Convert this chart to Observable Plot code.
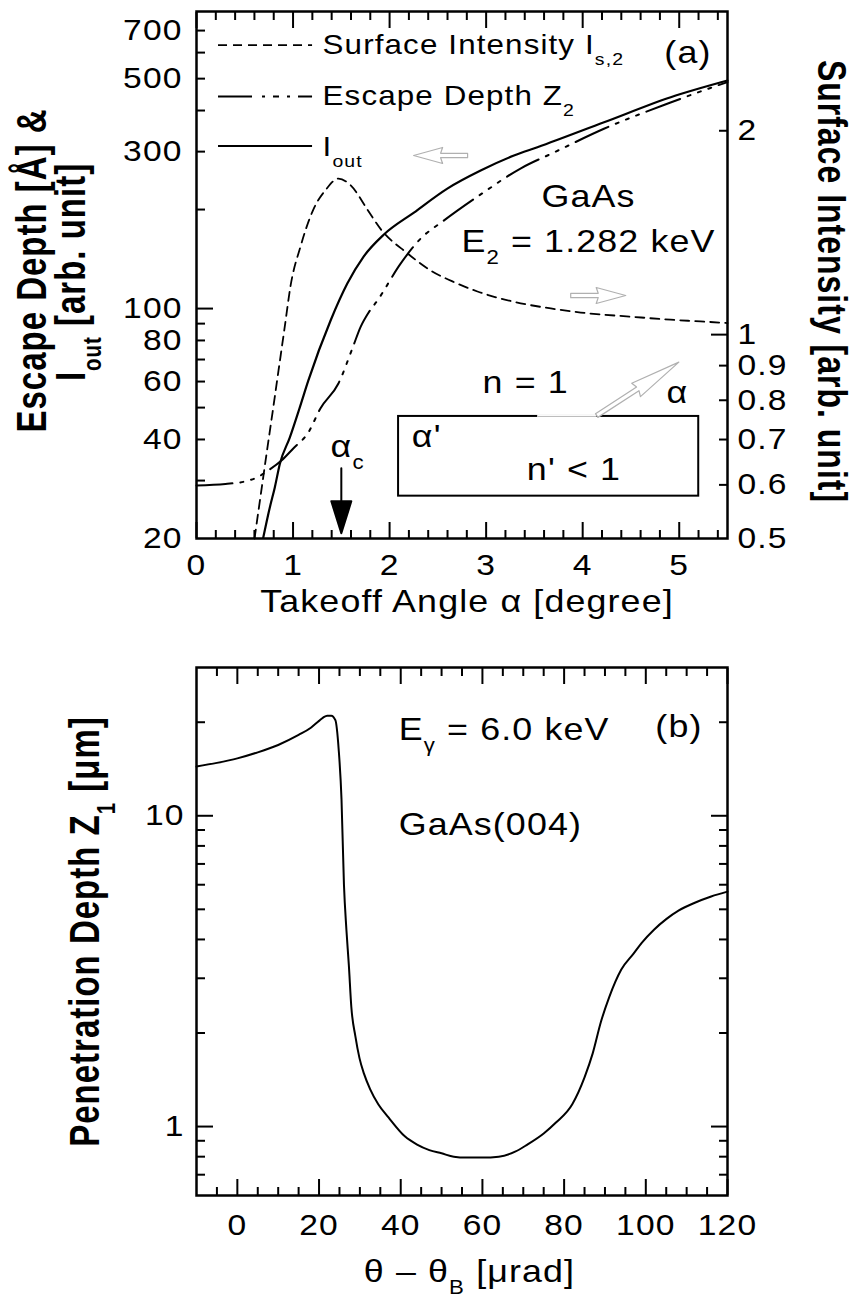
<!DOCTYPE html>
<html>
<head>
<meta charset="utf-8">
<script src="https://cdn.jsdelivr.net/npm/d3@7"></script>
<script src="https://cdn.jsdelivr.net/npm/@observablehq/plot@0.6"></script>
<style>
  html, body { margin: 0; padding: 0; background: #fff; }
  #chart { position: relative; width: 855px; height: 1298px; background: #fff; }
  #chart svg { position: absolute; left: 0; }
</style>
</head>
<body>
<div id="chart"></div>
<script>
// ---------- Panel (a): takeoff angle α [degree] ----------
// Surface intensity I_s,2 (right axis, arb. unit)
const surfaceAlpha = [0.601, 0.663, 0.725, 0.788, 0.850, 0.912, 0.974, 1.078, 1.21, 1.337, 1.47, 1.60, 1.77, 1.91, 2.18, 2.42, 2.67, 2.91, 3.29, 3.67, 3.98, 4.53, 4.91, 5.22, 5.5];
const surfaceIntensity = [0.5, 0.577, 0.666, 0.768, 0.886, 1.022, 1.18, 1.35, 1.53, 1.635, 1.70, 1.66, 1.53, 1.43, 1.32, 1.245, 1.195, 1.158, 1.118, 1.093, 1.078, 1.062, 1.052, 1.046, 1.04];

// Escape depth Z_2 [Å] (left axis)
const depthAlpha = [0, 0.3, 0.5, 0.62, 0.75, 0.88, 1.0, 1.158, 1.285, 1.47, 1.617, 1.70, 1.78, 1.876, 2.114, 2.32, 2.56, 2.94, 3.36, 3.70, 4.22, 4.91, 5.40, 5.5];
const escapeDepth = [29.0, 29.3, 29.8, 30.6, 32.3, 34.5, 37.5, 42.0, 49.8, 59.2, 76, 88, 97, 106, 137, 163, 185, 222, 267, 298, 352, 423, 477, 488];

// Output intensity I_out (left axis, arb. unit)
const outAlpha = [0.691, 0.760, 0.811, 0.863, 0.967, 1.070, 1.158, 1.389, 1.562, 1.731, 1.941, 2.252, 2.598, 2.943, 3.288, 3.531, 4.221, 4.912, 5.5];
const outIntensity = [20.1, 24.9, 28.6, 33.7, 40.6, 50.1, 60.4, 92.0, 119.1, 143.9, 167.9, 195.8, 231.6, 262.8, 291.8, 309.3, 368.4, 439, 493.4];

// Axis ticks, panel (a)
const alphaMajor = [0, 1, 2, 3, 4, 5];
const alphaMinor = [0.2, 0.4, 0.6, 0.8, 1.2, 1.4, 1.6, 1.8, 2.2, 2.4, 2.6, 2.8, 3.2, 3.4, 3.6, 3.8, 4.2, 4.4, 4.6, 4.8, 5.2, 5.4];
const depthLabels = [20, 40, 60, 80, 100, 300, 500, 700];
const depthMajor = [100];
const depthMinor = [30, 40, 50, 60, 70, 80, 90, 200, 300, 400, 500, 600, 700];
const surfaceLabels = [0.5, 0.6, 0.7, 0.8, 0.9, 1, 2];
const surfaceMajor = [1];
const surfaceMinor = [0.6, 0.7, 0.8, 0.9, 2];

// ---------- Panel (b): θ − θ_B [µrad] ----------
const thetaOffset = [-10, -5, 0, 5, 10, 15, 18, 20, 21, 22, 23, 24, 24.8, 25.5, 26.1, 26.7, 27.3, 27.9, 28.9, 29.9, 31, 32.5, 34.5, 37, 41, 44, 47, 50, 53, 56, 60, 64, 68, 71, 75, 78, 82, 85, 87, 89, 91, 94, 97, 99, 102, 105, 108, 112, 116, 120];
const penetrationDepth = [14.4, 14.8, 15.3, 16.0, 16.9, 18.2, 19.2, 20.2, 20.7, 21.0, 21.0, 20.3, 16.4, 11.3, 6.0, 4.3, 3.3, 2.43, 1.95, 1.66, 1.48, 1.32, 1.18, 1.07, 0.93, 0.875, 0.84, 0.82, 0.80, 0.795, 0.795, 0.80, 0.83, 0.875, 0.95, 1.03, 1.18, 1.44, 1.72, 2.17, 2.6, 3.2, 3.6, 3.9, 4.3, 4.65, 4.95, 5.25, 5.5, 5.7];

const thetaMajor = [0, 20, 40, 60, 80, 100, 120];
const thetaMinor = [-5, 5, 10, 15, 25, 30, 35, 45, 50, 55, 65, 70, 75, 85, 90, 95, 105, 110, 115];
const penLabels = [1, 10];
const penMajor = [1, 10];
const penMinor = [0.7, 0.8, 0.9, 2, 3, 4, 5, 6, 7, 8, 9, 20];

// Legend entries of panel (a)
const legendLabels = ["Surface Intensity I_{s,2}", "Escape Depth Z_{2}", "I_{out}"];

// ---------- helpers ----------
const zip = (xs, ys) => xs.map((x, i) => ({x, y: ys[i]}));
const fmt = (d) => String(d);
const baseStyle = "font-family: 'Liberation Sans', Arial, Helvetica, sans-serif; letter-spacing: 1px; color: black; background: transparent; overflow: visible;";

// inward-pointing tick marks (labels left empty)
const xTicks = (values, size) => ["bottom", "top"].map((anchor) =>
  Plot.axisX(values, {anchor, tickSize: -size, strokeWidth: 2, label: null, tickFormat: () => ""}));
const yTicks = (values, size, anchors) => anchors.map((anchor) =>
  Plot.axisY(values, {anchor, tickSize: -size, strokeWidth: 2, label: null, tickFormat: () => ""}));

// outlined arrow pointing along the vector
const hollowArrow = {
  draw(c, l) {
    const w = 2.2, h = 8, b = -l * 0.5;
    c.moveTo(-w, 0); c.lineTo(-w, b); c.lineTo(-h, b + 2); c.lineTo(0, -l);
    c.lineTo(h, b + 2); c.lineTo(w, b); c.lineTo(w, 0); c.closePath();
  }
};
// filled arrow (shaft + solid head)
const solidArrow = {
  draw(c, l) {
    const hl = 32, hw = 10;
    c.moveTo(0, 0); c.lineTo(0, -(l - hl));
    c.moveTo(-hw, -(l - hl)); c.lineTo(0, -l); c.lineTo(hw, -(l - hl)); c.closePath();
  }
};

// axis titles are centred on the frame side they belong to
const title = (text, opts) => Plot.text([text], {textAnchor: "middle", lineAnchor: "middle", ...opts});

// ---------- panel (a), left axis ----------
const panelA = Plot.plot({
  width: 855, height: 640,
  marginTop: 11, marginRight: 128, marginBottom: 102, marginLeft: 196,
  style: baseStyle,
  x: {domain: [0, 5.5], axis: null, label: null},
  y: {type: "log", domain: [20, 800], axis: null, label: null},
  marks: [
    // refraction sketch: n' < 1 medium and exit ray
    Plot.rect([{x1: 2.093, x2: 5.202, y1: 26.9, y2: 47.0}], {x1: "x1", x2: "x2", y1: "y1", y2: "y2", fill: "none", stroke: "black", strokeWidth: 2}),
    Plot.ruleY([47.0], {x1: 3.534, x2: 4.145, stroke: "white", strokeWidth: 4}),
    Plot.ruleY([47.0], {x1: 3.534, x2: 4.145, stroke: "#b8b8b8", strokeWidth: 1}),
    Plot.vector([{x: 4.145, y: 47.3}], {x: "x", y: "y", length: 98, rotate: 57, anchor: "start", shape: hollowArrow, stroke: "#b0b0b0", fill: "white", strokeWidth: 1.2}),
    Plot.text(["n = 1"], {x: 3.41, y: 59.5, fontSize: 32}),
    Plot.text(["α"], {x: 4.98, y: 55.4, fontSize: 32}),
    Plot.text(["α'"], {x: 2.23, y: 40.7, fontSize: 32, textAnchor: "start"}),
    Plot.text(["n' < 1"], {x: 3.91, y: 32.3, fontSize: 32}),

    // axis-direction arrows
    Plot.vector([{x: 2.808, y: 292}], {x: "x", y: "y", length: 54, rotate: -90, anchor: "start", shape: hollowArrow, stroke: "#b0b0b0", fill: "white", strokeWidth: 1.2}),
    Plot.vector([{x: 3.876, y: 109.6}], {x: "x", y: "y", length: 55, rotate: 90, anchor: "start", shape: hollowArrow, stroke: "#b0b0b0", fill: "white", strokeWidth: 1.2}),

    // critical angle marker
    Plot.vector([{x: 1.5, y: 32.7}], {x: "x", y: "y", length: 65, rotate: 180, anchor: "start", shape: solidArrow, stroke: "black", fill: "black", strokeWidth: 2}),
    Plot.text(["α_{c}"], {x: 1.389, y: 38.0, fontSize: 32, textAnchor: "start"}),

    // annotations
    Plot.text(["(a)"], {x: 5.09, y: 598.7, fontSize: 32}),
    Plot.text(["GaAs"], {x: 4.06, y: 218.6, fontSize: 32}),
    Plot.text(["E_{2} = 1.282 keV"], {x: 4.06, y: 159.5, fontSize: 32}),

    // legend
    Plot.ruleY([632], {x1: 0.228, x2: 1.202, strokeWidth: 1.8, strokeDasharray: "9,6"}),
    Plot.ruleY([441], {x1: 0.228, x2: 1.202, strokeWidth: 2, strokeDasharray: "34,10,3,8,6,8,3,8"}),
    Plot.ruleY([312], {x1: 0.228, x2: 1.202, strokeWidth: 2.2}),
    Plot.text(legendLabels, {x: 1.306, y: [632, 442, 310], fontSize: 28, textAnchor: "start"}),

    // curves
    Plot.line(zip(depthAlpha, escapeDepth), {x: "x", y: "y", curve: "monotone-x", strokeWidth: 2, strokeDasharray: "36,8,3,8,3,8,3,8"}),
    Plot.line(zip(outAlpha, outIntensity), {x: "x", y: "y", curve: "monotone-x", strokeWidth: 2.2}),

    // ticks
    ...xTicks(alphaMajor, 16),
    ...xTicks(alphaMinor, 8),
    ...yTicks(depthMajor, 17, ["left"]),
    ...yTicks(depthMinor, 9, ["left"]),

    // tick labels
    Plot.axisX(alphaMajor, {anchor: "bottom", tickSize: 0, tickPadding: 15, fontSize: 30, label: null, tickFormat: fmt}),
    Plot.axisY(depthLabels, {anchor: "left", tickSize: 0, tickPadding: 14, fontSize: 30, label: null, tickFormat: fmt}),

    // axis titles
    title("Takeoff Angle α [degree]", {frameAnchor: "bottom", dx: 5, dy: 63, fontSize: 32}),
    title("Escape Depth [Å] &", {frameAnchor: "left", dx: -164, dy: -4.5, rotate: -90, fontSize: 33, fontWeight: "bold"}),
    title("I_{out} [arb. unit]", {frameAnchor: "left", dx: -125, dy: -3, rotate: -90, fontSize: 33, fontWeight: "bold"}),

    Plot.frame({strokeWidth: 2.5})
  ]
});

// ---------- panel (a), right axis (surface intensity) ----------
const panelA2 = Plot.plot({
  width: 855, height: 640,
  marginTop: 11, marginRight: 128, marginBottom: 102, marginLeft: 196,
  style: baseStyle,
  x: {domain: [0, 5.5], axis: null, label: null},
  y: {type: "log", domain: [0.5, 3], axis: null, label: null},
  marks: [
    Plot.line(zip(surfaceAlpha, surfaceIntensity), {x: "x", y: "y", curve: "monotone-x", strokeWidth: 1.8, strokeDasharray: "9,6"}),
    ...yTicks(surfaceMajor, 17, ["right"]),
    ...yTicks(surfaceMinor, 9, ["right"]),
    Plot.axisY(surfaceLabels, {anchor: "right", tickSize: 0, tickPadding: 10, fontSize: 30, label: null, tickFormat: fmt}),
    title("Surface Intensity [arb. unit]", {frameAnchor: "right", dx: 104, dy: 6.5, rotate: 90, fontSize: 32, fontWeight: "bold"})
  ]
});

// ---------- panel (b) ----------
const panelB = Plot.plot({
  width: 855, height: 658,
  marginTop: 27, marginRight: 128, marginBottom: 103, marginLeft: 196,
  style: baseStyle,
  x: {domain: [-10, 120], axis: null, label: null},
  y: {type: "log", domain: [0.6, 30], axis: null, label: null},
  marks: [
    Plot.line(zip(thetaOffset, penetrationDepth), {x: "x", y: "y", curve: "monotone-x", strokeWidth: 2}),
    Plot.text(["E_{γ} = 6.0 keV"], {x: 39.5, y: 18.9, fontSize: 32, textAnchor: "start"}),
    Plot.text(["(b)"], {x: 108.1, y: 19.4, fontSize: 32}),
    Plot.text(["GaAs(004)"], {x: 39.5, y: 9.33, fontSize: 32, textAnchor: "start"}),

    ...xTicks(thetaMajor, 16),
    ...xTicks(thetaMinor, 8),
    ...yTicks(penMajor, 17, ["left", "right"]),
    ...yTicks(penMinor, 9, ["left", "right"]),

    Plot.axisX(thetaMajor, {anchor: "bottom", tickSize: 0, tickPadding: 18, fontSize: 30, label: null, tickFormat: fmt}),
    Plot.axisY(penLabels, {anchor: "left", tickSize: 0, tickPadding: 12, fontSize: 30, label: null, tickFormat: fmt}),

    title("θ – θ_{B} [μrad]", {frameAnchor: "bottom", dx: 7.5, dy: 76, fontSize: 32}),
    title("Penetration Depth Z_{1} [μm]", {frameAnchor: "left", dx: -111, dy: 0, rotate: -90, fontSize: 33, fontWeight: "bold"}),

    Plot.frame({strokeWidth: 2.5})
  ]
});

const chart = document.getElementById("chart");
panelA.style.top = "0px";
panelA2.style.top = "0px";
panelB.style.top = "640px";
chart.append(panelA, panelA2, panelB);

// subscripts written as _{...} become lowered tspans; glyphs get a slight horizontal stretch
function finishText(svg) {
  const ns = "http://www.w3.org/2000/svg";
  svg.querySelectorAll("text").forEach((t) => {
    const s = t.textContent;
    if (s.includes("_{")) {
      const fs = parseFloat(getComputedStyle(t).fontSize);
      const shift = 0.38 * fs;
      while (t.firstChild) t.removeChild(t.firstChild);
      const re = /_\{([^}]*)\}/g;
      let last = 0, m, lowered = false;
      const add = (txt, sub) => {
        const sp = document.createElementNS(ns, "tspan");
        sp.textContent = txt;
        if (sub) { sp.setAttribute("font-size", 0.62 * fs); sp.setAttribute("dy", shift); }
        else if (lowered) sp.setAttribute("dy", -shift);
        t.appendChild(sp);
        lowered = sub;
      };
      while ((m = re.exec(s))) {
        if (m.index > last) add(s.slice(last, m.index), false);
        add(m[1], true);
        last = re.lastIndex;
      }
      if (last < s.length) add(s.slice(last), false);
    }
    const tr = t.getAttribute("transform");
    if (tr) {
      if (tr.includes("rotate")) t.setAttribute("transform", tr.replace("rotate", "scale(1.28,1) rotate"));
      else t.setAttribute("transform", tr + " scale(1.12,1)");
    }
  });
}
[panelA, panelA2, panelB].forEach(finishText);
</script>
</body>
</html>
